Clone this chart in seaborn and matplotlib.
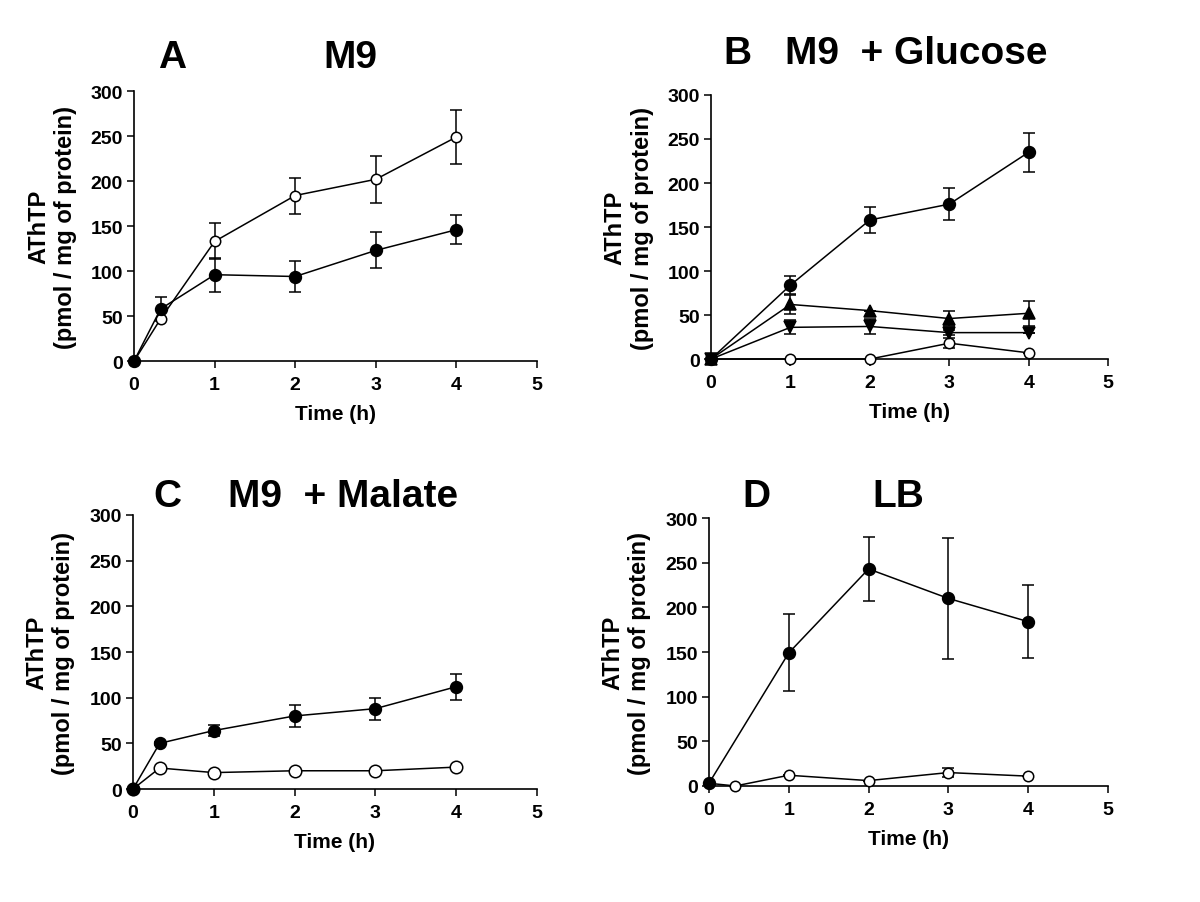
import matplotlib
matplotlib.use("Agg")
import matplotlib.pyplot as plt
import seaborn as sns
import pandas as pd

sns.set_theme(style="ticks")
plt.rcParams['font.family'] = ['Liberation Sans', 'DejaVu Sans']
plt.rcParams['font.weight'] = 'bold'
plt.rcParams['text.color'] = 'black'
plt.rcParams['axes.labelcolor'] = 'black'
plt.rcParams['xtick.color'] = 'black'
plt.rcParams['ytick.color'] = 'black'

# time points (h)
t_full = [0, 0.33, 1, 2, 3, 4]
t_five = [0, 1, 2, 3, 4]

# panel A  M9
a_open = [0, 47, 133, 184, 202, 249]
a_open_err = [0, 0, 20, 20, 26, 30]
a_fill = [0, 58, 96, 94, 123, 146]
a_fill_err = [0, 13, 19, 17, 20, 16]

# panel B  M9 + glucose
b_fill = [0, 84, 158, 176, 235]
b_fill_err = [0, 10, 15, 18, 22]
b_up = [0, 62, 55, 46, 52]
b_up_err = [0, 11, 0, 8, 14]
b_down = [0, 36, 37, 30, 30]
b_down_err = [0, 8, 8, 3, 0]
b_open = [0, 0, 0, 18, 7]
b_open_err = [0, 0, 0, 6, 0]

# panel C  M9 + malate
c_fill = [0, 50, 64, 80, 88, 112]
c_fill_err = [0, 2, 6, 12, 12, 14]
c_open = [0, 23, 18, 20, 20, 24]
c_open_err = [0, 0, 0, 0, 0, 0]

# panel D  LB
d_fill = [3, 149, 243, 210, 184]
d_fill_err = [0, 43, 36, 68, 41]
d_open = [3, 0, 12, 6, 15, 11]
d_open_err = [0, 0, 0, 0, 5, 0]

fig = plt.figure(figsize=(12, 9.03), dpi=100)

axA = fig.add_axes([0.1117, 0.599, 0.3358, 0.299])
axB = fig.add_axes([0.5925, 0.6013, 0.331, 0.2924])
axC = fig.add_axes([0.1108, 0.1251, 0.3367, 0.3035])
axD = fig.add_axes([0.5908, 0.1285, 0.3325, 0.2967])


def series(ax, t, y, err, marker, filled, ms):
    df = pd.DataFrame({'t': t, 'y': y})
    ax.errorbar(t, y, yerr=err, fmt='none', ecolor='black', elinewidth=1.1,
                capsize=4, capthick=1.1, clip_on=False, zorder=2)
    sns.lineplot(data=df, x='t', y='y', ax=ax, color='black', lw=1.1,
                 marker=marker, ms=ms, mec='black',
                 mfc='black' if filled else 'white', mew=1.1,
                 clip_on=False, zorder=3)


series(axA, t_full, a_open, a_open_err, 'o', False, 7.5)
series(axA, t_full, a_fill, a_fill_err, 'o', True, 8.5)

series(axB, t_five, b_open, b_open_err, 'o', False, 7.5)
series(axB, t_five, b_down, b_down_err, 'v', True, 8)
series(axB, t_five, b_up, b_up_err, '^', True, 8)
series(axB, t_five, b_fill, b_fill_err, 'o', True, 8.5)

series(axC, t_full, c_open, c_open_err, 'o', False, 9)
series(axC, t_full, c_fill, c_fill_err, 'o', True, 8.5)

series(axD, t_full, d_open, d_open_err, 'o', False, 7.5)
series(axD, t_five, d_fill, d_fill_err, 'o', True, 8.5)

for ax in [axA, axB, axC, axD]:
    ax.set_xlim(0, 5)
    ax.set_ylim(0, 300)
    ax.set_xticks([0, 1, 2, 3, 4, 5])
    ax.set_yticks([0, 50, 100, 150, 200, 250, 300])
    sns.despine(ax=ax)
    for s in ['left', 'bottom']:
        ax.spines[s].set_linewidth(1.2)
        ax.spines[s].set_color('black')
    ax.tick_params(axis='both', direction='out', length=5, width=1.1,
                   color='black', labelcolor='black', labelsize=14, pad=3)
    ax.tick_params(axis='x', pad=6)
    for lab in ax.get_xticklabels() + ax.get_yticklabels():
        lab.set_fontweight('bold')
    ax.set_xlabel('Time (h)', fontsize=15, fontweight='bold', labelpad=8)
    ax.set_ylabel('AThTP\n(pmol / mg of protein)', fontsize=17,
                  fontweight='bold', labelpad=10)

# panel titles
tkw = dict(fontsize=28, fontweight='bold', va='baseline', ha='left',
           color='black')
H = 903.0
fig.text(158 / 1200, 1 - 68 / H, 'A', **tkw)
fig.text(323 / 1200, 1 - 68 / H, 'M9', **tkw)
fig.text(723 / 1200, 1 - 64 / H, 'B', **tkw)
fig.text(785 / 1200, 1 - 64 / H, 'M9  + Glucose', **tkw)
fig.text(153 / 1200, 1 - 507 / H, 'C', **tkw)
fig.text(228 / 1200, 1 - 507 / H, 'M9  + Malate', **tkw)
fig.text(742 / 1200, 1 - 507 / H, 'D', **tkw)
fig.text(872 / 1200, 1 - 507 / H, 'LB', **tkw)

fig.savefig('out.png', dpi=100, facecolor='white')
